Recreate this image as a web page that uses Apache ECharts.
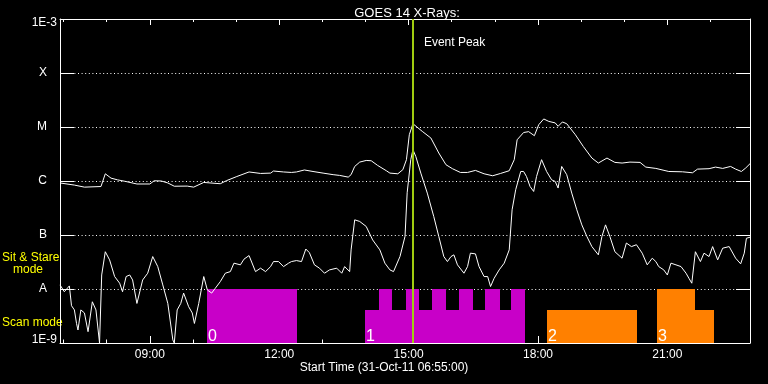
<!DOCTYPE html>
<html><head><meta charset="utf-8">
<script src="https://cdn.jsdelivr.net/npm/echarts@6/dist/echarts.min.js"></script>
<style>html,body{margin:0;padding:0;background:#000}#c{width:768px;height:384px}</style>
</head><body><div id="c"></div>
<script>
// Times are minutes after 00:00 on 31-Oct-2011; flux in W/m^2
const longTimes = [415,435,449,472,478,486,495,505,522,540,
546,556,565,574,592,601,615,638,647,661,
678,694,708,712,726,737,744,755,767,781,
795,804,816,820,825,832,841,848,857,869,
874,885,892,897,901,906,919,931,942,952,
961,972,982,993,1005,1017,1028,1040,1047,1051,
1060,1067,1075,1081,1088,1095,1104,1108,1114,1120,
1132,1143,1155,1164,1176,1187,1197,1208,1222,1230,
1244,1262,1281,1295,1302,1318,1327,1337,1348,1355,
1363,1369,1375];
const longFlux = [9.2e-7,8.4e-7,7.7e-7,7.9e-7,1.36e-6,1.13e-6,1.05e-6,9.9e-7,8.8e-7,8.8e-7,
1.01e-6,1.0e-6,9.2e-7,8.0e-7,8.05e-7,7.7e-7,9.4e-7,8.9e-7,1.02e-6,1.21e-6,
1.47e-6,1.38e-6,1.40e-6,1.53e-6,1.47e-6,1.44e-6,1.47e-6,1.60e-6,1.50e-6,1.40e-6,
1.31e-6,1.27e-6,1.18e-6,1.31e-6,1.86e-6,2.24e-6,2.40e-6,2.37e-6,1.94e-6,1.55e-6,
1.40e-6,1.36e-6,1.62e-6,2.48e-6,7.2e-6,1.15e-5,8.3e-6,6.25e-6,3.30e-6,2.0e-6,
1.69e-6,1.44e-6,1.44e-6,1.57e-6,1.36e-6,1.25e-6,1.38e-6,1.55e-6,2.48e-6,5.8e-6,
7.9e-6,8.2e-6,6.9e-6,1.10e-5,1.41e-5,1.27e-5,1.19e-5,1.03e-5,1.24e-5,1.15e-5,
7.2e-6,4.37e-6,2.66e-6,2.15e-6,2.66e-6,2.21e-6,2.15e-6,2.24e-6,2.21e-6,1.81e-6,
1.71e-6,1.50e-6,1.48e-6,1.42e-6,1.66e-6,1.69e-6,1.81e-6,1.71e-6,1.86e-6,1.66e-6,
1.50e-6,1.74e-6,2.09e-6];

const shortTimes = [415,421,428,431,435,438,440,444,449,454,
460,465,470,473,478,484,491,498,502,507,
512,516,522,530,537,544,551,558,565,572,
574,578,583,587,594,599,602,608,615,620,
626,631,638,645,652,657,666,671,678,687,
694,701,708,712,719,726,733,737,744,751,
757,762,769,776,783,790,800,807,811,818,
820,825,832,841,850,860,867,874,879,888,
895,898,903,906,910,917,926,935,942,949,
954,959,963,968,977,982,986,993,998,1005,
1010,1014,1019,1026,1033,1040,1044,1049,1056,1060,
1064,1069,1074,1078,1085,1092,1099,1104,1108,1113,
1120,1127,1134,1141,1148,1155,1164,1169,1174,1180,
1187,1197,1203,1210,1217,1225,1232,1239,1244,1248,
1255,1260,1265,1272,1279,1286,1290,1294,1299,1306,
1311,1318,1323,1330,1337,1346,1355,1362,1367,1370,
1375];
const shortFlux = [1.19e-8,8.9e-9,1.14e-8,4.9e-9,4.1e-9,2.3e-9,1.74e-9,4.1e-9,3.6e-9,1.62e-9,
5.8e-9,4.1e-9,1.0e-9,1.82e-8,4.9e-8,3.46e-8,1.70e-8,1.28e-8,8.9e-9,1.70e-8,
1.82e-8,1.47e-8,5.4e-9,1.47e-8,1.96e-8,3.99e-8,2.60e-8,1.19e-8,5.4e-9,1.14e-9,
1.0e-9,4.1e-9,5.4e-9,8.4e-9,4.7e-9,3.6e-9,2.3e-9,5.4e-9,1.70e-8,9.6e-9,
8.4e-9,1.03e-8,1.37e-8,1.96e-8,2.10e-8,3.01e-8,2.80e-8,3.57e-8,4.16e-8,2.10e-8,
2.43e-8,2.10e-8,2.60e-8,3.22e-8,3.22e-8,2.60e-8,3.01e-8,3.22e-8,3.36e-8,3.22e-8,
5.5e-8,4.7e-8,2.80e-8,2.43e-8,1.96e-8,2.26e-8,2.43e-8,1.96e-8,2.60e-8,2.10e-8,
5.3e-8,1.91e-7,1.78e-7,1.44e-7,8.1e-8,5.3e-8,3.01e-8,2.26e-8,2.10e-8,3.99e-8,
9.4e-8,6.05e-7,2.48e-6,3.8e-6,2.85e-6,1.40e-6,5.97e-7,2.20e-7,9.4e-8,3.99e-8,
3.22e-8,3.99e-8,4.29e-8,2.80e-8,1.96e-8,2.60e-8,4.61e-8,4.47e-8,2.60e-8,1.70e-8,
1.70e-8,1.11e-8,1.58e-8,2.26e-8,3.01e-8,5.3e-8,2.93e-7,6.9e-7,1.50e-6,1.50e-6,
1.21e-6,7.9e-7,6.4e-7,1.21e-6,2.48e-6,1.50e-6,1.05e-6,9.8e-7,7.4e-7,1.86e-6,
1.31e-6,5.97e-7,2.93e-7,1.54e-7,9.4e-8,6.1e-8,4.29e-8,9.4e-8,1.54e-7,9.4e-8,
4.9e-8,3.72e-8,7.1e-8,6.1e-8,6.6e-8,4.61e-8,2.80e-8,3.72e-8,3.22e-8,2.60e-8,
2.26e-8,1.82e-8,3.01e-8,2.80e-8,2.60e-8,1.96e-8,1.58e-8,1.28e-8,4.9e-8,3.22e-8,
4.61e-8,3.99e-8,6.1e-8,3.46e-8,5.7e-8,6.1e-8,3.72e-8,2.92e-8,4.61e-8,8.7e-8,
9.1e-8];

// Instrument mode segments (minutes), mode and scan number
const segStart = [620,840,859,877,896,915,932,952,970,989,1006,1027,1043,1092,1245,1299];
const segEnd   = [745,859,877,896,915,932,952,970,989,1006,1027,1043,1062,1218,1299,1325];
const segMode  = ['stare','scan','stare','scan','stare','scan','stare','scan','stare','scan','stare','scan','stare','scan','stare','scan'];
const segScan  = [0,1,1,1,1,1,1,1,1,1,1,1,1,2,3,3];
const scanLabels = ['0','1','2','3'];
const modeLevel = {stare: 1e-8, scan: 4e-9};

const xMin = 415, xMax = 1375;           // 06:55 .. 22:55
const xLabelTicks = [540,720,900,1080,1260];
const xHourTicks = [420,480,540,600,660,720,780,840,900,960,1020,1080,1140,1200,1260,1320];
const yMin = 1e-9, yMax = 1e-3;
const yTickLabels = ['1E-9','A','B','C','M','X','1E-3'];
const eventPeak = 906;                   // 15:06
const titleText = 'GOES 14 X-Rays:';
const xTitle = 'Start Time (31-Oct-11 06:55:00)';

const scanColors = ['#c800c8','#c800c8','#ff8000','#ff8000'];
const FONT = '"Liberation Sans", Arial, sans-serif';

function hhmm(v){const h=Math.floor(v/60),m=Math.round(v%60);return String(h).padStart(2,'0')+':'+String(m).padStart(2,'0');}

const chart = echarts.init(document.getElementById('c'), null, {renderer:'canvas'});

function xAx(pos, ticks, len, showLine, showLabel){
  return {type:'value', min:xMin, max:xMax, position:pos,
    axisLine:{show:showLine, lineStyle:{color:'#fff', width:1}},
    axisTick:{show:true, inside:true, length:len, customValues:ticks, lineStyle:{color:'#fff', width:1}},
    axisLabel:{show:showLabel, customValues:ticks, formatter:hhmm, color:'#fff', fontSize:12, fontFamily:FONT, margin:6},
    splitLine:{show:false}};
}

function renderSeg(params, api){
  const s=api.value(0), e=api.value(1), lvl=api.value(2), scan=api.value(3), idx=api.value(4);
  const p0=api.coord([s,lvl]), p1=api.coord([e,yMin]);
  const x0=Math.round(p0[0]), x1=Math.round(p1[0]), y0=Math.round(p0[1]), y1=Math.round(p1[1]);
  const children=[{type:'rect', shape:{x:x0, y:y0, width:x1-x0, height:y1-y0}, style:{fill:scanColors[scan]}}];
  if (idx===0 || segScan[idx-1]!==segScan[idx]) {
    children.push({type:'text', z2:10, x:x0+1, y:y1-6, style:{text:scanLabels[scan], fill:'#fff', fontSize:16, fontFamily:FONT, align:'left', verticalAlign:'middle'}});
  }
  return {type:'group', children};
}

const baseGraphic = [
  {type:'text', left:'center', top:362, style:{text:xTitle, fill:'#fff', fontSize:12, fontFamily:FONT}},
  {type:'text', x:2, y:252, style:{text:'Sit & Stare', fill:'#ffff00', fontSize:12, fontFamily:FONT}},
  {type:'text', x:13, y:264, style:{text:'mode', fill:'#ffff00', fontSize:12, fontFamily:FONT}},
  {type:'text', x:2, y:317, style:{text:'Scan mode', fill:'#ffff00', fontSize:12, fontFamily:FONT}}
];

const option = {
  backgroundColor:'#000',
  animation:false,
  grid:{left:60, right:18, top:19, bottom:41, containLabel:false},
  title:{text:titleText, left:402, top:2, textAlign:'center', textStyle:{color:'#fff', fontSize:13, fontWeight:'normal', fontFamily:FONT}},
  xAxis:[
    xAx('bottom', xLabelTicks, 7, true, true),
    xAx('bottom', xHourTicks, 3.5, false, false),
    xAx('top', xLabelTicks, 6, true, false),
    xAx('top', xHourTicks, 3, false, false)
  ],
  yAxis:[
    {type:'log', logBase:10, min:yMin, max:yMax, position:'left',
     axisLine:{show:true, lineStyle:{color:'#fff'}},
     axisTick:{show:true, inside:true, length:14, lineStyle:{color:'#fff'}},
     splitLine:{show:true, lineStyle:{color:'#fff', width:1, type:[1,2.6]}},
     axisLabel:{color:'#fff', fontSize:12, fontFamily:FONT, margin:3,
       formatter:function(v){const i=Math.round(Math.log10(v))+9; const t=yTickLabels[i];
         if(i===6) return '{t|'+t+'}'; if(i===0) return '{b|'+t+'}'; return '{l|'+t+'}';},
       rich:{t:{color:'#fff',fontSize:12,fontFamily:FONT,padding:[7,0,0,0]},
             b:{color:'#fff',fontSize:12,fontFamily:FONT,padding:[0,0,6,0]},
             l:{color:'#fff',fontSize:12,fontFamily:FONT,padding:[0,10,0,0]}}}},
    {type:'log', logBase:10, min:yMin, max:yMax, position:'right',
     axisLine:{show:true, lineStyle:{color:'#fff'}},
     axisTick:{show:true, inside:true, length:14, lineStyle:{color:'#fff'}},
     splitLine:{show:false}, axisLabel:{show:false}}
  ],
  graphic: baseGraphic,
  series:[
    {type:'custom', xAxisIndex:0, yAxisIndex:0, renderItem:renderSeg, clip:true, z:1,
     data: segStart.map((s,i)=>[s, segEnd[i], modeLevel[segMode[i]], segScan[i], i])},
    {type:'line', xAxisIndex:0, yAxisIndex:0, showSymbol:false, symbol:'none', z:3, clip:true,
     lineStyle:{color:'#fff', width:1}, data: longTimes.map((t,i)=>[t,longFlux[i]])},
    {type:'line', xAxisIndex:0, yAxisIndex:0, showSymbol:false, symbol:'none', z:3, clip:true,
     lineStyle:{color:'#fff', width:1}, data: shortTimes.map((t,i)=>[t,shortFlux[i]])},
    {type:'line', xAxisIndex:0, yAxisIndex:0, data:[], z:5,
     markLine:{silent:true, symbol:'none', label:{show:false}, lineStyle:{color:'#a0cc10', width:2, type:'solid'},
       data:[{xAxis:eventPeak}]}}
  ]
};
chart.setOption(option);
const px = chart.convertToPixel({xAxisIndex:0}, eventPeak);
chart.setOption({graphic: baseGraphic.concat([
  {type:'text', x:px+11, y:37, style:{text:'Event Peak', fill:'#fff', fontSize:12, fontFamily:FONT}}
])}, {replaceMerge:['graphic']});
</script></body></html>
